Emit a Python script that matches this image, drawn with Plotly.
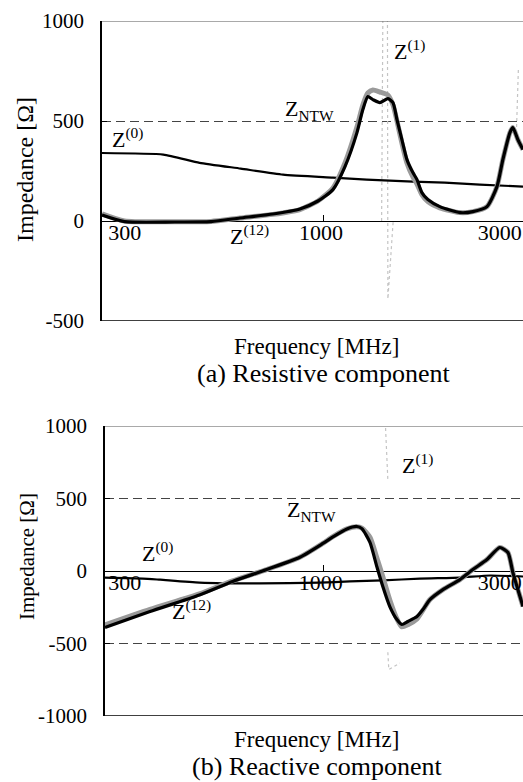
import math
import plotly.graph_objects as go

# ---------------- data ----------------
# (a) Resistive component
freq_r = [256, 294, 400, 500, 597, 731, 863, 964, 1057, 1138, 1225, 1270, 1310, 1351, 1410,
          1481, 1528, 1566, 1614, 1665, 1727, 1771, 1825, 1893, 2037, 2305, 2496, 2721,
          2893, 3000, 3133, 3190, 3290, 3395]
R_ntw = [30, -3, -5, -3, 15, 35, 60, 100, 157, 272, 442, 557, 622, 607, 592,
         612, 592, 507, 407, 307, 242, 207, 142, 107, 72, 42, 47, 72,
         172, 307, 442, 467, 407, 357]
R_12 = [36, 0, -4, -2, 15, 33, 57, 100, 165, 290, 470, 580, 640, 655, 645,
        630, 580, 500, 390, 290, 220, 185, 132, 97, 66, 42, 47, 72,
        172, 307, 442, 467, 407, 357]
freq_r0 = [256, 373, 466, 600, 778, 1057, 1300, 1727, 2100, 2606, 3395]
R_0 = [340, 332, 291, 262, 232, 217, 207, 197, 192, 182, 172]
freq_r1 = [1425, 1437, 1440, None, 1476, 1481, 1530, None, 3260, 3300]
R_1 = [0, 1400, 1400, None, 1400, -390, 0, None, 440, 760]

# (b) Reactive component
freq_x = [261, 344, 466, 571, 704, 863, 994, 1057, 1152, 1225, 1263, 1327, 1384, 1436,
          1499, 1566, 1614, 1675, 1771, 1837, 1918, 2077, 2305, 2496, 2721, 2944,
          3095, 3190, 3290, 3395]
X_ntw = [-390, -280, -165, -72, 10, 95, 190, 235, 290, 307, 292, 197, 31, -107,
         -245, -335, -369, -348, -314, -266, -197, -128, -59, 10, 79, 162,
         128, -10, -128, -245]
X_12 = [-372, -265, -158, -68, 10, 95, 190, 237, 290, 305, 296, 232, 92, -40,
        -200, -330, -385, -370, -330, -270, -197, -128, -59, 10, 79, 162,
        128, -10, -128, -245]
freq_x0 = [256, 329, 366, 466, 674, 975, 1173, 1436, 1803, 2306, 2775, 3395]
X_0 = [-45, -52, -60, -80, -86, -80, -72, -65, -52, -45, -31, -38]
freq_x1 = [1437, 1481, None, 1481, 1490, 1594]
X_1 = [1400, 630, None, -560, -680, -635]

tick_vals = [300, 1000, 3000]
tick_text = ["300", "1000", "3000"]
y_ticks_a = [-500, 0, 500, 1000]
y_text_a = ["-500", "0", "500", "1000"]
y_ticks_b = [-1000, -500, 0, 500, 1000]
y_text_b = ["-1000", "-500", "0", "500", "1000"]

# ---------------- figure ----------------
FONT = "Liberation Serif"
fig = go.Figure()

def add_set(xa, ya, f_main, ntw, z12, f0, z0, f1, z1):
    fig.add_trace(go.Scatter(x=f1, y=z1, xaxis=xa, yaxis=ya, mode="lines", connectgaps=False,
                             line=dict(color="#c4c4c4", width=1.2, dash="dot")))
    fig.add_trace(go.Scatter(x=f0, y=z0, xaxis=xa, yaxis=ya, mode="lines",
                             line=dict(color="black", width=2.2, shape="spline", smoothing=0.5)))
    fig.add_trace(go.Scatter(x=f_main, y=z12, xaxis=xa, yaxis=ya, mode="lines",
                             line=dict(color="#9a9a9a", width=5, shape="spline", smoothing=0.6)))
    fig.add_trace(go.Scatter(x=f_main, y=ntw, xaxis=xa, yaxis=ya, mode="lines",
                             line=dict(color="black", width=3.2, shape="spline", smoothing=0.6)))

add_set("x", "y", freq_r, R_ntw, R_12, freq_r0, R_0, freq_r1, R_1)
add_set("x2", "y2", freq_x, X_ntw, X_12, freq_x0, X_0, freq_x1, X_1)

H = 695.0
top_dom = [(716 - 321) / H, 1.0]
bot_dom = [0.0, (716 - 426) / H]

def xax(dom, rng, pos):
    return dict(type="log", domain=dom, range=[math.log10(rng[0]), math.log10(rng[1])],
                anchor="free", position=pos, showline=False, showgrid=False, zeroline=False,
                automargin=False, ticklabeloverflow="allow", ticklabelshift=-3,
                ticklabelstandoff=-4,
                tickmode="array", tickvals=tick_vals, ticktext=tick_text, ticks="",
                tickfont=dict(family=FONT, size=22, color="black"),
                minor=dict(tickmode="array", tickvals=[1000], ticks="inside", ticklen=6,
                           tickcolor="black", tickwidth=1, showgrid=False))

def yax(dom, rng, vals, texts, anchor):
    return dict(domain=dom, range=rng, anchor=anchor, tickmode="array", tickvals=vals,
                ticktext=texts, automargin=False,
                ticks="inside", ticklen=5, tickcolor="black", showline=True, linecolor="black",
                linewidth=1.5, showgrid=True, gridcolor="#444444", griddash="9px,5px",
                gridwidth=1, zeroline=True, zerolinecolor="black", zerolinewidth=1.2,
                ticklabelstandoff=12, tickfont=dict(family=FONT, size=21, color="black"))

fig.update_layout(
    width=523, height=782,
    margin=dict(l=102, r=0, t=21, b=66, autoexpand=False),
    plot_bgcolor="white", paper_bgcolor="white", showlegend=False,
    font=dict(family=FONT, color="black"),
    xaxis=xax([0, 1], [256, 3395], top_dom[0] + (top_dom[1] - top_dom[0]) / 3),
    yaxis=yax(top_dom, [-500, 1000], y_ticks_a, y_text_a, "x"),
    xaxis2=xax([3 / 421, 1], [261, 3395], bot_dom[1] / 2),
    yaxis2=yax(bot_dom, [-1000, 1000], y_ticks_b, y_text_b, "x2"),
)

for xr, yr, lo, hi in (("x domain", "y", -500, 1000), ("x2 domain", "y2", -1000, 1000)):
    fig.add_shape(type="line", xref=xr, yref=yr, x0=0, x1=1, y0=lo, y1=lo,
                  line=dict(color="black", width=1.5))
    fig.add_shape(type="line", xref=xr, yref=yr, x0=0, x1=1, y0=hi, y1=hi,
                  line=dict(color="#555555", width=1.2))

def lab(xa, ya, f, v, text):
    fig.add_annotation(xref=xa, yref=ya, x=math.log10(f), y=v, text=text, showarrow=False,
                       font=dict(family=FONT, size=22, color="black"))

lab("x", "y", 300, 417, "Z<sup>(0)</sup>")
lab("x", "y", 918, 555, "Z<sub>NTW</sub>")
lab("x", "y", 1694, 857, "Z<sup>(1)</sup>")
lab("x", "y", 635, -72, "Z<sup>(12)</sup>")
lab("x2", "y2", 1780, 735, "Z<sup>(1)</sup>")
lab("x2", "y2", 929, 415, "Z<sub>NTW</sub>")
lab("x2", "y2", 360, 128, "Z<sup>(0)</sup>")
lab("x2", "y2", 445, -266, "Z<sup>(12)</sup>")

def ptxt(px, py, text, size, angle=0):
    fig.add_annotation(xref="paper", yref="paper", x=(px - 102) / 421.0, y=(716 - py) / H,
                       text=text, showarrow=False, textangle=angle,
                       xanchor="center", yanchor="middle",
                       font=dict(family=FONT, size=size, color="black"))

ptxt(316, 346, "Frequency [MHz]", 23)
ptxt(323, 373, "(a) Resistive component", 26)
ptxt(316, 739, "Frequency [MHz]", 23)
ptxt(317, 766, "(b) Reactive component", 26)
ptxt(25, 170, "Impedance [Ω]", 24, -90)
ptxt(27, 557, "Impedance [Ω]", 21, -90)

fig.write_html("out.html", config={"displayModeBar": False},
               post_script="document.body.style.margin='0';document.body.style.overflow='hidden';")
